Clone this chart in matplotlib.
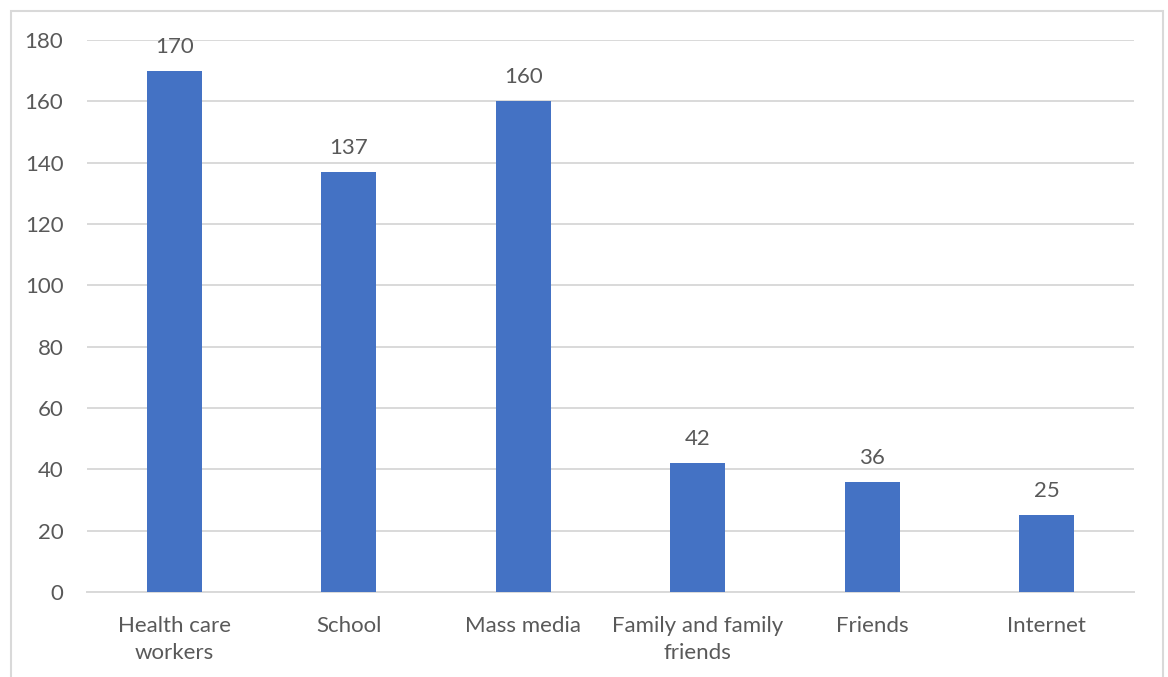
import matplotlib.pyplot as plt
from matplotlib.patches import Rectangle

# data
categories = ["Health care\nworkers", "School", "Mass media",
              "Family and family\nfriends", "Friends", "Internet"]
values = [170, 137, 160, 42, 36, 25]
yticks = [0, 20, 40, 60, 80, 100, 120, 140, 160, 180]

plt.rcParams['font.family'] = ['Lato', 'DejaVu Sans']
text_col = '#595959'
fs = 16

fig = plt.figure(figsize=(11.68, 6.77), dpi=100)
ax = fig.add_axes([0.0745, 0.1256, 0.8965, 0.8153])

x = range(len(categories))
bars = ax.bar(x, values, width=0.315, color='#4472C4', zorder=3)
ax.bar_label(bars, labels=[str(v) for v in values], padding=10,
             fontsize=fs, color=text_col)

ax.set_xlim(-0.5, len(categories) - 0.5)
ax.set_ylim(0, 180)
ax.set_yticks(yticks)
ax.set_xticks(list(x))
ax.set_xticklabels(categories, fontsize=fs, color=text_col, linespacing=1.45)
ax.tick_params(axis='y', length=0, pad=17, labelsize=fs, labelcolor=text_col)
ax.tick_params(axis='x', length=0, pad=17)

ax.grid(axis='y', color='#d9d9d9', linewidth=1.4, zorder=0)
for s in ['top', 'right', 'left']:
    ax.spines[s].set_visible(False)
ax.spines['bottom'].set_color('#d9d9d9')
ax.spines['bottom'].set_linewidth(1.4)

# light frame round the chart
fig.patches.append(Rectangle((11 / 1168, -0.02), (1163 - 11) / 1168, 1.02 - 11 / 677,
                             transform=fig.transFigure, fill=False,
                             edgecolor='#d9d9d9', linewidth=1.5))

fig.savefig("out.png", dpi=100)
